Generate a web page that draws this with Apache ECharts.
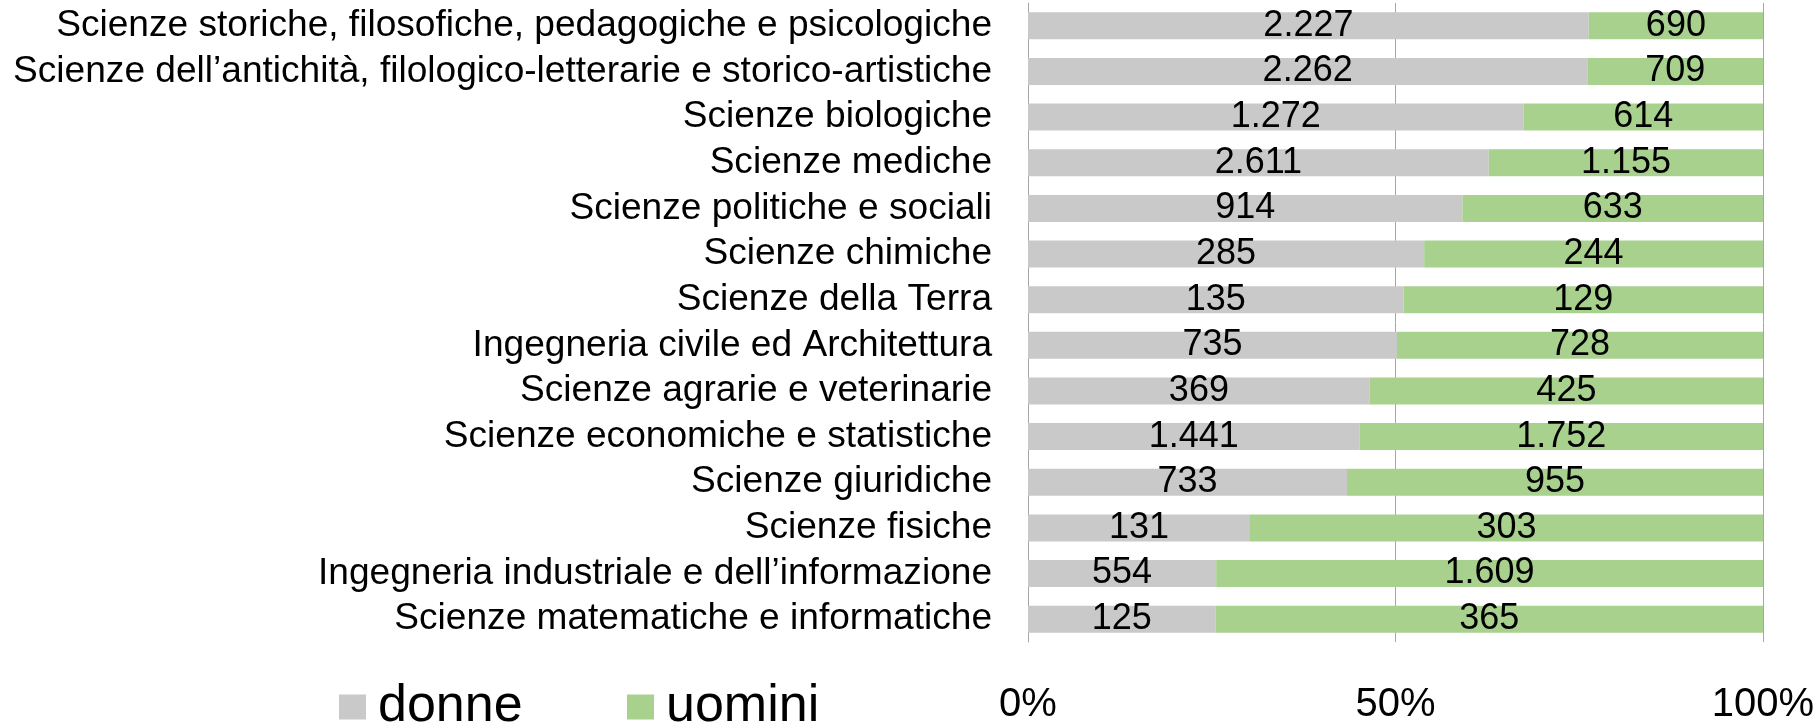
<!DOCTYPE html>
<html>
<head>
<meta charset="utf-8">
<script src="https://cdn.jsdelivr.net/npm/echarts@6/dist/echarts.min.js"></script>
<style>
  html, body { margin: 0; padding: 0; background: #fff; }
  #chart { width: 1820px; height: 725px; }
</style>
</head>
<body>
<div id="chart"></div>
<script>
const categories = [
    'Scienze storiche, filosofiche, pedagogiche e psicologiche',
    'Scienze dell\u2019antichità, filologico-letterarie e storico-artistiche',
    'Scienze biologiche',
    'Scienze mediche',
    'Scienze politiche e sociali',
    'Scienze chimiche',
    'Scienze della Terra',
    'Ingegneria civile ed Architettura',
    'Scienze agrarie e veterinarie',
    'Scienze economiche e statistiche',
    'Scienze giuridiche',
    'Scienze fisiche',
    'Ingegneria industriale e dell\u2019informazione',
    'Scienze matematiche e informatiche'
];
// counts shown as labels
const donne = [2227, 2262, 1272, 2611, 914, 285, 135, 735, 369, 1441, 733, 131, 554, 125];
const uomini = [690, 709, 614, 1155, 633, 244, 129, 728, 425, 1752, 955, 303, 1609, 365];
// bar lengths (%)
const donnePct = [76.3, 76.1, 67.4, 62.7, 59.1, 53.9, 51.1, 50.2, 46.5, 45.1, 43.4, 30.2, 25.6, 25.5];
const uominiPct = [23.7, 23.9, 32.6, 37.3, 40.9, 46.1, 48.9, 49.8, 53.5, 54.9, 56.6, 69.8, 74.4, 74.5];
const tickLabels = ['0%', '50%', '100%'];

const fontFamily = '"Liberation Sans", Arial, sans-serif';
const grayColor = '#c9c9c9';
const greenColor = '#a9d18e';
const lineColor = '#a6a6a6';

const fmt = n => String(n).replace(/\B(?=(\d{3})+(?!\d))/g, '.');

function makeSeries(name, pct, counts, color) {
    return {
        name: name,
        type: 'bar',
        stack: 'tot',
        barWidth: 27,
        itemStyle: { color: color },
        label: {
            show: true,
            position: 'inside',
            color: '#000',
            fontSize: 36,
            fontFamily: fontFamily,
            formatter: p => fmt(counts[p.dataIndex])
        },
        emphasis: { disabled: true },
        data: pct
    };
}

const legendBase = {
    orient: 'horizontal',
    top: 681,
    padding: 0,
    itemWidth: 27,
    itemHeight: 25,
    icon: 'rect',
    selectedMode: false,
    textStyle: {
        fontSize: 52,
        fontFamily: fontFamily,
        color: '#000',
        padding: [0, 0, 10, 7]
    }
};

const chart = echarts.init(document.getElementById('chart'));
chart.setOption({
    animation: false,
    grid: {
        left: 1028,
        right: 57,
        top: 3,
        bottom: 83,
        containLabel: false
    },
    legend: [
        Object.assign({}, legendBase, { left: 339, data: ['donne'] }),
        Object.assign({}, legendBase, { left: 627, data: ['uomini'] })
    ],
    xAxis: {
        type: 'value',
        min: 0,
        max: 100,
        interval: 50,
        axisLine: { show: false },
        axisTick: { show: false },
        splitLine: { show: true, lineStyle: { color: lineColor, width: 1 } },
        axisLabel: {
            margin: 43,
            color: '#000',
            fontSize: 40,
            fontFamily: fontFamily,
            formatter: v => tickLabels[Math.round(v / 50)]
        }
    },
    yAxis: {
        type: 'category',
        inverse: true,
        data: categories,
        axisLine: { show: true, lineStyle: { color: lineColor, width: 1 } },
        axisTick: { show: false },
        axisLabel: {
            interval: 0,
            margin: 36,
            color: '#000',
            fontSize: 37.1,
            padding: [4, 0, 0, 0],
            fontFamily: fontFamily
        }
    },
    series: [
        makeSeries('donne', donnePct, donne, grayColor),
        makeSeries('uomini', uominiPct, uomini, greenColor)
    ]
});
</script>
</body>
</html>
